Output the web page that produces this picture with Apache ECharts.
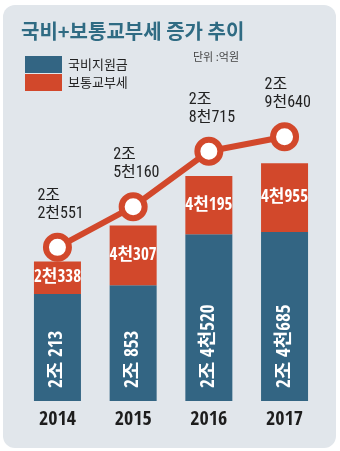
<!DOCTYPE html>
<html>
<head>
<meta charset="utf-8">
<script src="https://cdn.jsdelivr.net/npm/echarts@6/dist/echarts.min.js"></script>
<style>
html,body{margin:0;padding:0;background:#fff;}
#c{width:340px;height:451px;}
</style>
</head>
<body>
<div id="c"></div>
<script>
var years = ['2014', '2015', '2016', '2017'];
var subsidy = [20213, 20853, 24520, 24685];   // 국비지원금
var grant = [2338, 4307, 4195, 4955];         // 보통교부세
var totals = [22551, 25160, 28715, 29640];    // 합계

var BLUE = '#336583';
var ORANGE = '#d2482b';
var NARROW = "'Open Sans Condensed','Roboto Condensed','Noto Sans CJK KR',sans-serif";
var NARROW_LIGHT = "'Roboto Condensed','Noto Sans CJK KR',sans-serif";

function fmt(v, sep) {
  var jo = Math.floor(v / 10000);
  var rest = v % 10000;
  var cheon = Math.floor(rest / 1000);
  var r = rest % 1000;
  var tail = (cheon ? cheon + '천' : '') + r;
  return jo ? jo + '조' + sep + tail : tail;
}

var chart = echarts.init(document.getElementById('c'));
chart.setOption({
  backgroundColor: '#fff',
  animation: false,
  graphic: [
    { type: 'rect', z: -10, shape: { x: 3, y: 5, width: 333, height: 443, r: 12 }, style: { fill: '#e1e6eb' } },
    { type: 'text', left: 193, top: 51, style: { text: '단위 :억원', fontSize: 11, fill: '#444', fontFamily: "'Noto Sans CJK KR',sans-serif" } }
  ],
  title: {
    text: '국비+보통교부세 증가 추이',
    left: 21, top: 21, padding: 0,
    textStyle: { fontSize: 20, fontWeight: 'bold', color: '#2f6b83', fontFamily: "'Noto Sans CJK KR',sans-serif" }
  },
  legend: {
    data: ['국비지원금', '보통교부세'],
    orient: 'vertical', left: 25, top: 56, padding: 0,
    itemWidth: 37, itemHeight: 17, itemGap: 1, icon: 'rect',
    textStyle: { fontSize: 13, color: '#222', fontFamily: "'Noto Sans CJK KR',sans-serif", padding: [0,0,0,1] }
  },
  grid: { left: 19.6, right: 17.6, top: 100, bottom: 50 },
  xAxis: {
    type: 'category', data: years,
    axisLine: { show: false }, axisTick: { show: false },
    axisLabel: { margin: 9, fontSize: 20, fontWeight: 'bold', color: '#1d1d1d', fontFamily: NARROW }
  },
  yAxis: [
    { type: 'value', min: 12500, max: 34200, show: false, splitLine: { show: false } },
    { type: 'value', min: 12700, max: 32000, show: false, splitLine: { show: false } }
  ],
  series: [
    {
      name: '국비지원금', type: 'bar', stack: 'a', data: subsidy, barWidth: 47,
      itemStyle: { color: BLUE },
      label: {
        show: true, position: 'insideBottom', rotate: 90, align: 'left', verticalAlign: 'middle',
        distance: 13, color: '#fff', fontSize: 19, fontWeight: 'bold', fontFamily: NARROW,
        formatter: function (p) { return fmt(p.value, ' '); }
      }
    },
    {
      name: '보통교부세', type: 'bar', stack: 'a', data: grant, barWidth: 47,
      itemStyle: { color: ORANGE },
      label: {
        show: true, position: 'inside', color: '#fff', fontSize: 17, fontWeight: 'bold', fontFamily: NARROW,
        formatter: function (p) { return fmt(p.value, ''); }
      }
    },
    {
      name: '합계', type: 'line', yAxisIndex: 1, data: totals, z: 10, clip: false,
      lineStyle: { color: ORANGE, width: 6 },
      symbol: 'circle', symbolSize: 23,
      itemStyle: { color: '#fff', borderColor: ORANGE, borderWidth: 6 },
      label: {
        show: true, position: 'top', distance: 10, align: 'left', offset: [-20, 0],
        color: '#222', fontSize: 16, lineHeight: 18, fontWeight: 'normal', fontFamily: NARROW_LIGHT,
        formatter: function (p) { return fmt(p.value, '\n'); }
      }
    }
  ]
});
</script>
</body>
</html>
